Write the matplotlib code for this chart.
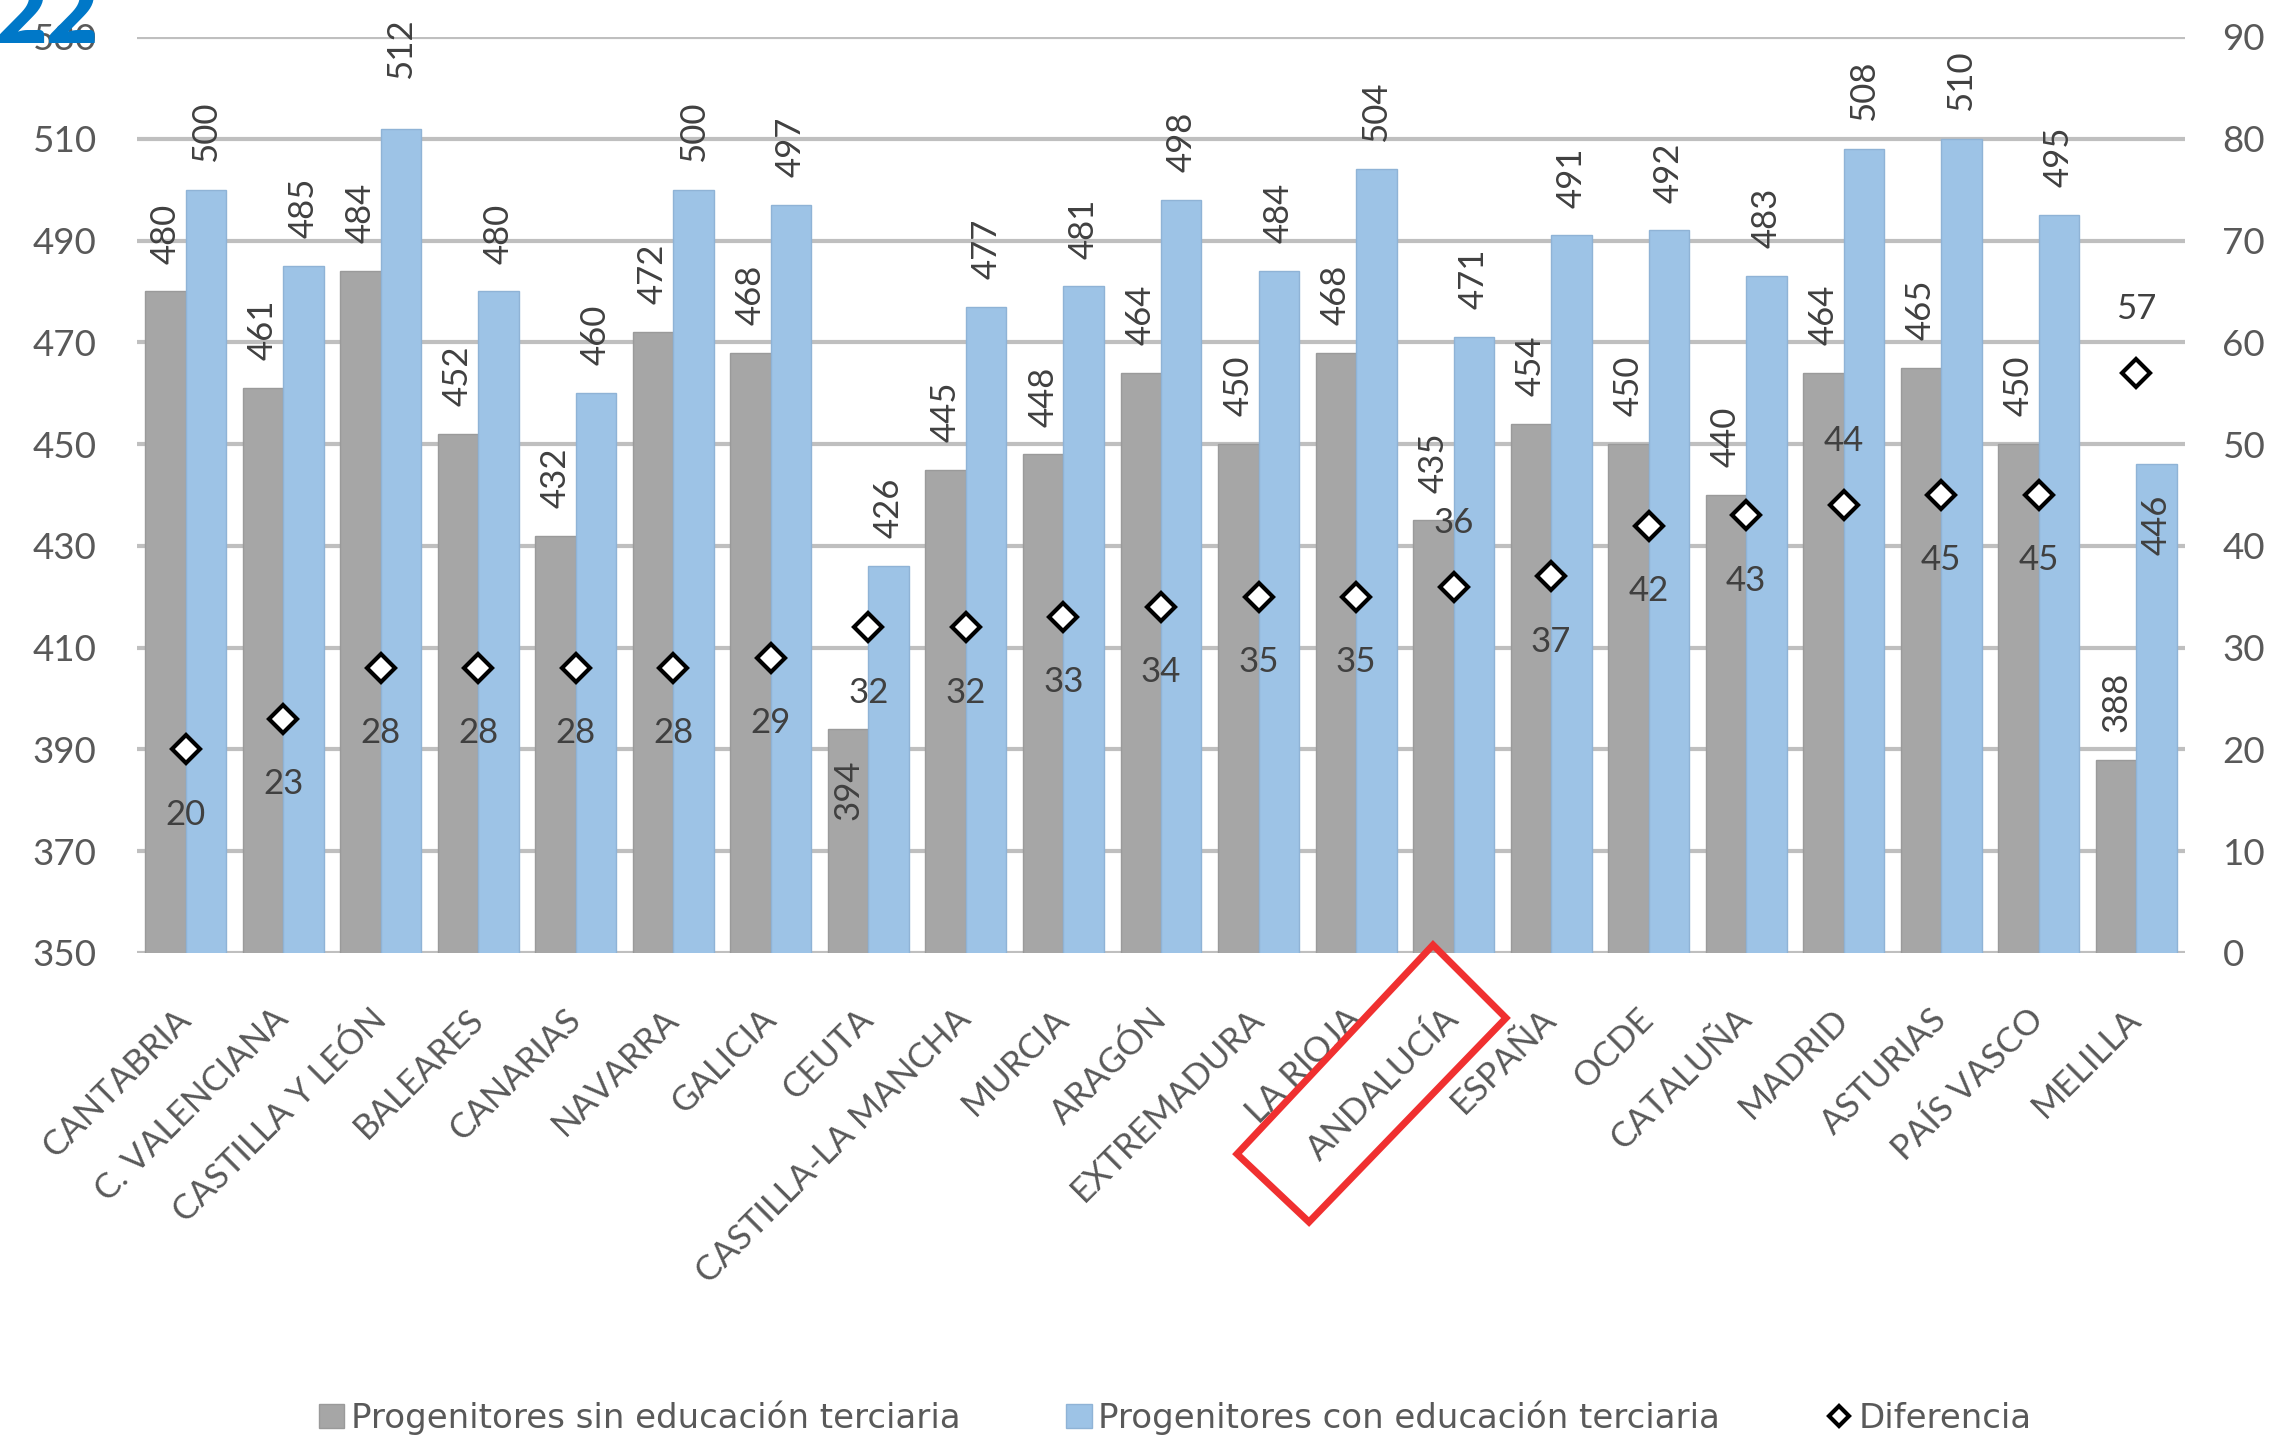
import numpy as np
import matplotlib
matplotlib.use('Agg')
import matplotlib.pyplot as plt
from matplotlib.patches import Polygon, Patch, Circle
from matplotlib.lines import Line2D

plt.rcParams['font.family'] = ['Lato', 'DejaVu Sans']

categories = ["CANTABRIA", "C. VALENCIANA", "CASTILLA Y LEÓN", "BALEARES", "CANARIAS",
              "NAVARRA", "GALICIA", "CEUTA", "CASTILLA-LA MANCHA", "MURCIA", "ARAGÓN",
              "EXTREMADURA", "LA RIOJA", "ANDALUCÍA", "ESPAÑA", "OCDE", "CATALUÑA",
              "MADRID", "ASTURIAS", "PAÍS VASCO", "MELILLA"]
sin_terciaria = [480, 461, 484, 452, 432, 472, 468, 394, 445, 448, 464, 450, 468,
                 435, 454, 450, 440, 464, 465, 450, 388]
con_terciaria = [500, 485, 512, 480, 460, 500, 497, 426, 477, 481, 498, 484, 504,
                 471, 491, 492, 483, 508, 510, 495, 446]
diferencia = [20, 23, 28, 28, 28, 28, 29, 32, 32, 33, 34, 35, 35, 36, 37, 42, 43,
              44, 45, 45, 57]
left_ticks = list(range(350, 531, 20))
right_ticks = list(range(0, 91, 10))
series_names = ["Progenitores sin educación terciaria",
                "Progenitores con educación terciaria", "Diferencia"]

GREY = '#A6A6A6'
BLUE = '#9DC3E6'
TICK_C = '#595959'
LAB_C = '#404040'

W, H = 2281, 1439
fig = plt.figure(figsize=(W / 100, H / 100), dpi=100)
fig.patch.set_facecolor('white')

x0, x1, y0, y1 = 137, 2185, 37, 953
ax = fig.add_axes([x0 / W, 1 - y1 / H, (x1 - x0) / W, (y1 - y0) / H])
ax.set_xlim(-0.5, len(categories) - 0.5)
ax.set_ylim(left_ticks[0], left_ticks[-1])
ax.set_yticks(left_ticks)
ax.yaxis.grid(True, color='#BFBFBF', linewidth=3)
ax.set_axisbelow(True)
for s in ax.spines.values():
    s.set_visible(False)

x = np.arange(len(categories))
bw = 0.415
bars_sin = ax.bar(x - bw / 2, sin_terciaria, width=bw, color=GREY,
                  edgecolor='#9A9A9A', linewidth=1, zorder=2)
bars_con = ax.bar(x + bw / 2, con_terciaria, width=bw, color=BLUE,
                  edgecolor='#8FB3D6', linewidth=1, zorder=2)

# value labels on bars
for i, (b, v) in enumerate(zip(bars_sin, sin_terciaria)):
    inside = categories[i] == "CEUTA"
    ax.annotate(str(v), (b.get_x() + b.get_width() / 2, v),
                xytext=(0, -22 if inside else 20), textcoords='offset points',
                rotation=90, ha='center', va='top' if inside else 'bottom',
                fontsize=25, color=LAB_C, zorder=5)
for i, (b, v) in enumerate(zip(bars_con, con_terciaria)):
    inside = categories[i] == "MELILLA"
    off = 36 if v == max(con_terciaria) else 20
    ax.annotate(str(v), (b.get_x() + b.get_width() / 2, v),
                xytext=(0, -22 if inside else off), textcoords='offset points',
                rotation=90, ha='center', va='top' if inside else 'bottom',
                fontsize=25, color=LAB_C, zorder=5)

ax.tick_params(axis='y', length=0, pad=29, labelsize=26.5, labelcolor=TICK_C)
ax.set_xticks(x)
ax.set_xticklabels(categories, rotation=45, ha='right', va='center',
                   rotation_mode='anchor', fontsize=25, color=TICK_C)
ax.tick_params(axis='x', length=0, pad=44)

ax2 = ax.twinx()
ax2.set_ylim(right_ticks[0], right_ticks[-1])
ax2.set_yticks(right_ticks)
for s in ax2.spines.values():
    s.set_visible(False)
ax2.tick_params(axis='y', length=0, pad=27, labelsize=26.5, labelcolor=TICK_C)
ax2.plot(x, diferencia, linestyle='none', marker='D', markersize=14,
         markerfacecolor='white', markeredgecolor='black', markeredgewidth=3,
         zorder=4)
above = {"ANDALUCÍA", "MADRID", "MELILLA"}
for i, v in enumerate(diferencia):
    up = categories[i] in above
    ax2.annotate(str(v), (x[i], v), xytext=(0, 46 if up else -47),
                 textcoords='offset points', ha='center', va='center',
                 fontsize=25, color=LAB_C, zorder=5)

# legend
handles = [Patch(facecolor=GREY, edgecolor='#9A9A9A'),
           Patch(facecolor=BLUE, edgecolor='#8FB3D6'),
           Line2D([], [], linestyle='none', marker='D', markersize=10,
                  markerfacecolor='white', markeredgecolor='black',
                  markeredgewidth=3)]
fig.legend(handles, series_names, loc='center', ncol=3,
           bbox_to_anchor=(1175 / W, 21 / H), frameon=False,
           prop={'family': 'DejaVu Sans', 'size': 24.5},
           labelcolor=TICK_C, handlelength=0.75, handleheight=0.7,
           handletextpad=0.2, columnspacing=3.1, borderaxespad=0)

# red highlight box around ANDALUCÍA
corners = [(1433, 945), (1506, 1018), (1309, 1222), (1237, 1154)]
poly = Polygon([(cx / W, 1 - cy / H) for cx, cy in corners], closed=True,
               fill=False, edgecolor='#F03030', linewidth=5,
               transform=fig.transFigure, zorder=10)
fig.add_artist(poly)

# page number fragment
fig.text(-0.002, 1 - 43 / H, "22", fontsize=64, fontweight='heavy',
         color='#0078C8', ha='left', va='baseline', zorder=10)

# small red fragment at bottom
circ = Circle((329 / W, 1 - 1450 / H), 16 / W, transform=fig.transFigure,
              color='#B5302A', zorder=10)
fig.add_artist(circ)

fig.savefig('out.png', dpi=100, facecolor='white')
